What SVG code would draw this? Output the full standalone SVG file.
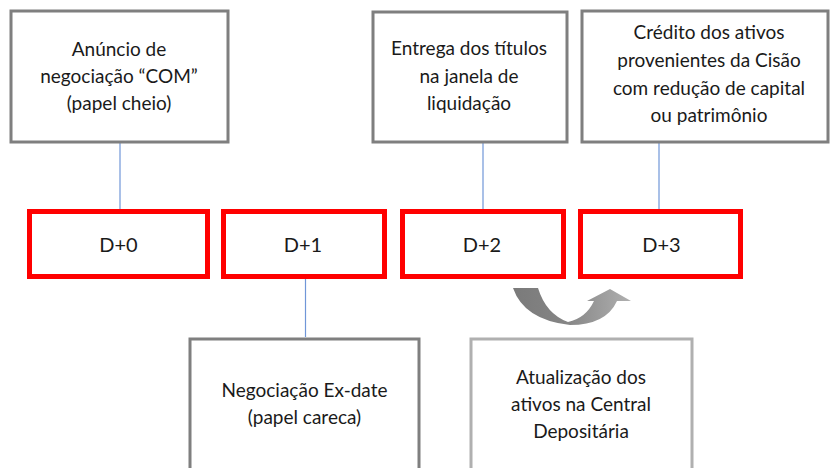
<svg xmlns="http://www.w3.org/2000/svg" width="831" height="468" viewBox="0 0 831 468">
<style>
  .box { fill: #ffffff; stroke: #7f7f7f; stroke-width: 3; }
  .boxl { fill: #ffffff; stroke: #b0b0b0; stroke-width: 3; }
  .day { fill: #ffffff; stroke: #ff0000; stroke-width: 5; }
  .t { font-family: Lato, "Liberation Sans", sans-serif; font-size: 19px; fill: #1a1a1a; text-anchor: middle; }
  .d { font-family: Lato, "Liberation Sans", sans-serif; font-size: 20px; fill: #1a1a1a; text-anchor: middle; }
  .conn { stroke: #7096d8; stroke-width: 1.2; fill: none; }
</style>
<defs>
  <linearGradient id="arrowGrad" x1="0" y1="0" x2="1" y2="0">
    <stop offset="0" stop-color="#7a7a7a"/>
    <stop offset="0.45" stop-color="#858585"/>
    <stop offset="1" stop-color="#b0b0b0"/>
  </linearGradient>
</defs>
<rect width="831" height="468" fill="#ffffff"/>

<g id="connectors">
  <line class="conn" x1="120" y1="143" x2="120" y2="209"/>
  <line class="conn" x1="483" y1="142" x2="483" y2="209"/>
  <line class="conn" x1="659" y1="142" x2="659" y2="209"/>
  <line class="conn" x1="305.5" y1="279" x2="305.5" y2="337"/>
</g>

<g id="node-anuncio">
  <rect class="box" x="11" y="11" width="217" height="131"/>
  <text class="t" x="119" y="56">Anúncio de</text>
  <text class="t" x="119" y="83">negociação “COM”</text>
  <text class="t" x="119" y="110">(papel cheio)</text>
</g>

<g id="node-entrega">
  <rect class="box" x="373" y="12" width="194" height="130"/>
  <text class="t" x="469" y="55">Entrega dos títulos</text>
  <text class="t" x="469" y="83">na janela de</text>
  <text class="t" x="469" y="110">liquidação</text>
</g>

<g id="node-credito">
  <rect class="box" x="582" y="11" width="246" height="131"/>
  <text class="t" x="709" y="39">Crédito dos ativos</text>
  <text class="t" x="709" y="67">provenientes da Cisão</text>
  <text class="t" x="709" y="95">com redução de capital</text>
  <text class="t" x="709" y="122">ou patrimônio</text>
</g>

<g id="node-d0">
  <rect class="day" x="29.5" y="211.5" width="178" height="65"/>
  <text class="d" x="118.5" y="252">D+0</text>
</g>
<g id="node-d1">
  <rect class="day" x="223.5" y="211.5" width="161" height="65"/>
  <text class="d" x="303" y="252">D+1</text>
</g>
<g id="node-d2">
  <rect class="day" x="402.5" y="211.5" width="161" height="65"/>
  <text class="d" x="482" y="252">D+2</text>
</g>
<g id="node-d3">
  <rect class="day" x="580.5" y="211.5" width="160" height="65"/>
  <text class="d" x="661.5" y="252">D+3</text>
</g>

<g id="node-curved-arrow">
  <path fill="url(#arrowGrad)" d="M513,288 L538,288 Q546,314 568,322 Q586,318 594,301 L587,301 L610,289 L631,301 L617,301 Q606,325 570,325 Q524,320 513,288 Z"/>
</g>

<g id="node-exdate">
  <rect class="box" x="190" y="339" width="229" height="140"/>
  <text class="t" x="304.5" y="397">Negociação Ex-date</text>
  <text class="t" x="304.5" y="424">(papel careca)</text>
</g>

<g id="node-atualizacao">
  <rect class="boxl" x="471" y="339" width="221" height="140"/>
  <text class="t" x="581" y="384">Atualização dos</text>
  <text class="t" x="581" y="411">ativos na Central</text>
  <text class="t" x="581" y="438">Depositária</text>
</g>
</svg>
